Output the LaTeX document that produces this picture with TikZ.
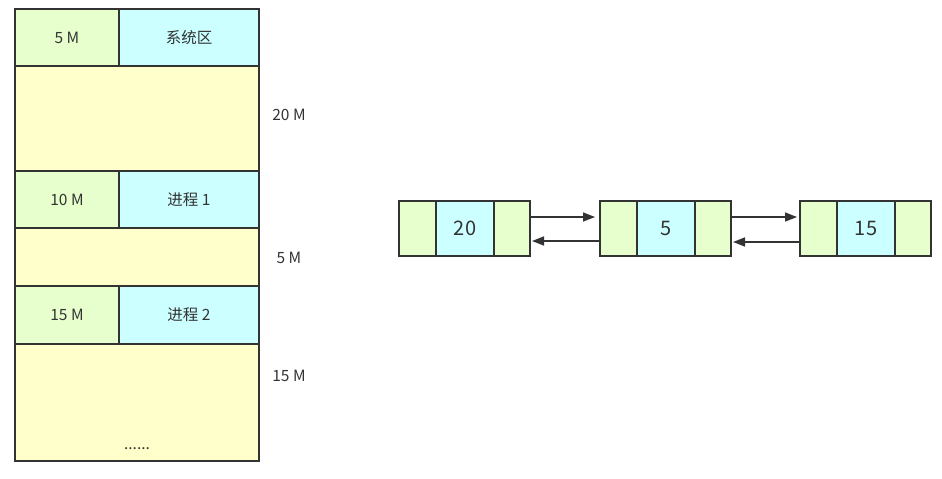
\documentclass[tikz,border=0pt]{standalone}
\usepackage{fontspec}
\setmainfont{Noto Sans CJK SC}
\usetikzlibrary{arrows.meta}
\definecolor{cgreen}{HTML}{E6FFCC}
\definecolor{cblue}{HTML}{CCFFFF}
\definecolor{cyellow}{HTML}{FFFFCC}
\definecolor{cline}{HTML}{333333}
\begin{document}
\begin{tikzpicture}[x=1pt,y=-1pt,
  cell/.style={draw=cline,line width=1.6pt,inner sep=0pt,outer sep=0pt,anchor=north west,text=cline,font=\fontsize{15.5}{17}\selectfont},
  gcell/.style={cell,fill=cgreen},
  bcell/.style={cell,fill=cblue},
  ycell/.style={cell,fill=cyellow},
  lbl/.style={text=cline,font=\fontsize{15.5}{17}\selectfont,inner sep=0pt},
  lcell/.style={draw=cline,line width=1.6pt,inner sep=0pt,outer sep=0pt,anchor=north west,text=cline,font=\fontsize{20}{22}\selectfont,minimum height=55pt},
  arr/.style={draw=cline,line width=1.6pt,-{Triangle[length=12pt,width=9pt]}}
]
\useasboundingbox (0,0) rectangle (942,479);
% left memory column
\node[gcell,minimum width=104pt,minimum height=57pt] (a1) at (15,9) {5 M};
\node[bcell,minimum width=140pt,minimum height=57pt] (a2) at (119,9) {系统区};
\node[ycell,minimum width=244pt,minimum height=105pt] (b) at (15,66) {};
\node[gcell,minimum width=104pt,minimum height=57pt] (c1) at (15,171) {10 M};
\node[bcell,minimum width=140pt,minimum height=57pt] (c2) at (119,171) {进程 1};
\node[ycell,minimum width=244pt,minimum height=58pt] (d) at (15,228) {};
\node[gcell,minimum width=104pt,minimum height=58pt] (e1) at (15,286) {15 M};
\node[bcell,minimum width=140pt,minimum height=58pt] (e2) at (119,286) {进程 2};
\node[ycell,minimum width=244pt,minimum height=117pt] (f) at (15,344) {};
\node[lbl] (dots) at (137,449) {......};
\node[lbl] (s20) at (289,115) {20 M};
\node[lbl] (s5) at (289,258) {5 M};
\node[lbl] (s15) at (289,376) {15 M};
% linked list
\node[lcell,fill=cgreen,minimum width=37pt] (n1l) at (399,201) {};
\node[lcell,fill=cblue,minimum width=58pt] (n1m) at (436,201) {20};
\node[lcell,fill=cgreen,minimum width=36pt] (n1r) at (494,201) {};
\node[lcell,fill=cgreen,minimum width=37pt] (n2l) at (600,201) {};
\node[lcell,fill=cblue,minimum width=58pt] (n2m) at (637,201) {5};
\node[lcell,fill=cgreen,minimum width=36pt] (n2r) at (695,201) {};
\node[lcell,fill=cgreen,minimum width=37pt] (n3l) at (800,201) {};
\node[lcell,fill=cblue,minimum width=58pt] (n3m) at (837,201) {15};
\node[lcell,fill=cgreen,minimum width=36pt] (n3r) at (895,201) {};
\draw[arr] ([yshift=11.5pt]n1r.east) -- ([yshift=11.5pt,xshift=-5pt]n2l.west);
\draw[arr] ([yshift=-12.5pt]n2l.west) -- ([yshift=-12.5pt,xshift=2pt]n1r.east);
\draw[arr] ([yshift=11.5pt]n2r.east) -- ([yshift=11.5pt,xshift=-3pt]n3l.west);
\draw[arr] ([yshift=-13.5pt]n3l.west) -- ([yshift=-13.5pt,xshift=2pt]n2r.east);
\end{tikzpicture}
\end{document}
